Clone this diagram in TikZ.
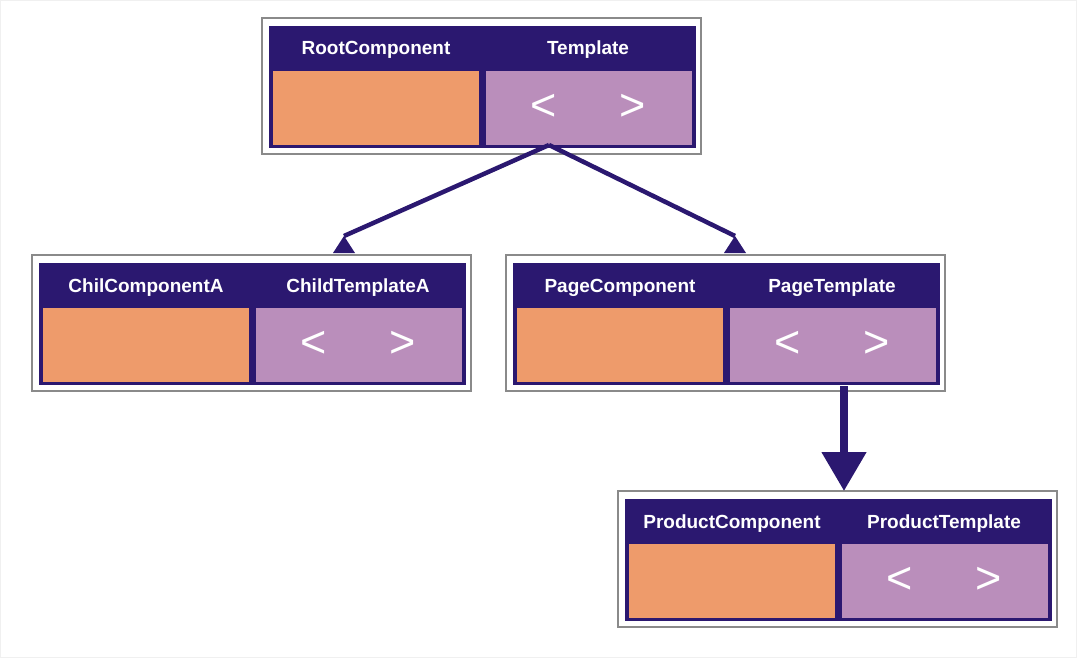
\documentclass[tikz,border=0pt]{standalone}
\usepackage{fontspec}
\setmainfont{Liberation Sans}
\usetikzlibrary{arrows.meta,calc}

\definecolor{navy}{HTML}{2B1870}
\definecolor{compfill}{HTML}{EE9B6B}
\definecolor{tmplfill}{HTML}{BA8EBB}
\definecolor{framegray}{HTML}{8A8A8A}

\tikzset{
	outer/.style={draw=framegray,line width=1.5pt,fill=white,minimum width=439pt,minimum height=136pt,inner sep=0pt,outer sep=0pt},
	inner/.style={fill=navy,minimum width=427pt,minimum height=122pt,inner sep=0pt,outer sep=0pt},
	cell/.style={minimum width=206pt,minimum height=74pt,inner sep=0pt,outer sep=0pt},
	head/.style={white,font=\bfseries\fontsize{19}{22}\selectfont,inner sep=0pt,anchor=base},
	angle/.style={white,font=\fontsize{45}{47}\selectfont,inner sep=0pt},
	link/.style={navy,line width=4.5pt},
	tip/.style={fill=navy},
	biglink/.style={navy,line width=8pt,-{Triangle[width=43pt,length=39pt]}}
}

% name, x, y, component, template
\newcommand{\compbox}[5]{%
	\node[outer,anchor=north west] (#1) at (#2-7,#3-8) {};
	\node[inner,anchor=north west] (#1-box) at (#2,#3) {};
	\node[cell,fill=compfill,anchor=north west] (#1-comp) at (#2+4,#3+45) {};
	\node[cell,fill=tmplfill,anchor=north west] (#1-tmpl) at (#2+217,#3+45) {};
	\node[head] (#1-l) at (#2+107,#3+29) {#4};
	\node[head] (#1-r) at (#2+319,#3+29) {#5};
	\node[angle] (#1-lt) at (#2+275,#3+81) {<};
	\node[angle] (#1-gt) at (#2+364,#3+81) {>};
}

\begin{document}
\begin{tikzpicture}[x=1pt,y=-1pt]
		\path[use as bounding box] (0,0) rectangle (1077,658);
		\draw[black!6] (0.5,0.5) rectangle (1076.5,657.5);

		\compbox{root}{269}{26}{RootComponent}{Template}
		\compbox{childA}{39}{263}{ChilComponentA}{ChildTemplateA}
		\compbox{page}{513}{263}{PageComponent}{PageTemplate}
		\compbox{product}{625}{499}{ProductComponent}{ProductTemplate}

		\coordinate (root-out) at ($(root-tmpl.south west)+(63,0)$);
		\coordinate (childA-in) at ($(childA.north west)+(312,-19)$);
		\coordinate (page-in) at ($(page.north west)+(229,-19)$);
		\coordinate (page-out) at ($(page-tmpl.south west)+(114,4)$);

		\draw[link] (root-out) -- (childA-in);
		\fill[tip] (childA-in) -- ++(-11,17) -- ++(22,0) -- cycle;

		\draw[link] (root-out) -- (page-in);
		\fill[tip] (page-in) -- ++(-11,17) -- ++(22,0) -- cycle;

		\draw[biglink] (page-out) -- (page-out |- product.north);
	\end{tikzpicture}
\end{document}
